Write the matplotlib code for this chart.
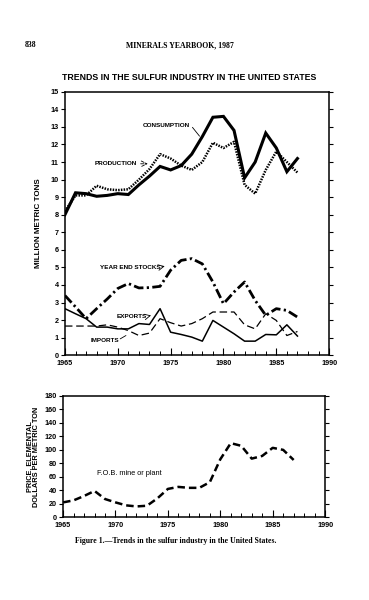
import numpy as np
import matplotlib
matplotlib.use('Agg')
import matplotlib.pyplot as plt

years = list(range(1965, 1988))

# million metric tons
consumption = [8.0, 9.25, 9.2, 9.05, 9.1, 9.2, 9.15, 9.7, 10.2, 10.75, 10.55, 10.8, 11.45,
               12.45, 13.55, 13.6, 12.8, 10.1, 11.0, 12.65, 11.8, 10.45, 11.2]
production = [8.2, 9.1, 9.1, 9.65, 9.45, 9.4, 9.45, 10.0, 10.6, 11.45, 11.2, 10.8, 10.55,
              11.0, 12.1, 11.8, 12.15, 9.7, 9.2, 10.55, 11.6, 11.0, 10.4]
stocks = [3.4, 2.75, 2.08, 2.65, 3.2, 3.8, 4.08, 3.83, 3.85, 3.92, 4.84, 5.4, 5.5,
          5.2, 4.17, 2.93, 3.6, 4.17, 3.12, 2.27, 2.65, 2.55, 2.17]
exports = [1.66, 1.66, 1.66, 1.66, 1.73, 1.6, 1.4, 1.12, 1.26, 2.08, 1.85, 1.66, 1.8,
           2.08, 2.46, 2.46, 2.46, 1.73, 1.5, 2.36, 1.98, 1.12, 1.35]
imports = [2.65, 2.36, 2.08, 1.6, 1.6, 1.5, 1.5, 1.8, 1.75, 2.65, 1.31, 1.18, 1.03,
           0.8, 1.98, 1.6, 1.22, 0.8, 0.8, 1.18, 1.16, 1.73, 1.09]

# dollars per metric ton, F.O.B. mine or plant
price = [22, 25, 31.5, 39, 27, 22, 17.6, 16, 17, 28, 42, 45, 43.6, 43.6, 52, 86, 110,
         106, 87, 91, 103, 100, 85]

sans = 'Liberation Sans'
serif = 'Liberation Serif'

fig = plt.figure(figsize=(3.69, 6.0), dpi=100)

fig.text(0.068, 0.925, '838', fontsize=5.5, family=serif, fontweight='bold', va='center')
fig.text(0.488, 0.925, 'MINERALS YEARBOOK, 1987', fontsize=5.6, family=serif,
         fontweight='bold', ha='center', va='center')
fig.text(0.512, 0.870, 'TRENDS IN THE SULFUR INDUSTRY IN THE UNITED STATES',
         fontsize=6.3, family=sans, fontweight='bold', ha='center', va='center')
fig.text(0.475, 0.098, 'Figure 1.\u2014Trends in the sulfur industry in the United States.',
         fontsize=5.6, family=serif, fontweight='bold', ha='center', va='center')


def style_axes(ax, yticks):
    ax.set_xlim(1965, 1990)
    ax.set_xticks([1965, 1970, 1975, 1980, 1985, 1990])
    ax.set_xticks(range(1965, 1991), minor=True)
    ax.tick_params(axis='x', which='major', direction='in', length=5, width=0.8,
                   labelsize=5.2, pad=3.5)
    ax.tick_params(axis='x', which='minor', direction='in', length=3, width=0.7)
    ax.set_yticks(yticks)
    ax.tick_params(axis='y', which='major', direction='out', length=3, width=0.8,
                   labelsize=5.2, pad=1.5, right=True)
    for lab in ax.get_xticklabels() + ax.get_yticklabels():
        lab.set_fontweight('bold')
        lab.set_family(sans)
    for s in ax.spines.values():
        s.set_linewidth(1.1)


# upper panel
ax = fig.add_axes([0.176, 0.408, 0.716, 0.439])
ax.plot(years, consumption, color='black', lw=2.2, solid_joinstyle='miter')
ax.plot(years, production, color='black', lw=1.8, linestyle=(0, (0.6, 0.5)))
ax.plot(years, stocks, color='black', lw=2.0, linestyle=(0, (3.5, 1.2, 0.8, 1.2)))
ax.plot(years, exports, color='black', lw=0.9, linestyle=(0, (6, 3)))
ax.plot(years, imports, color='black', lw=1.1)
ax.set_ylim(0, 15)
style_axes(ax, range(0, 16))
ax.set_ylabel('MILLION METRIC TONS', fontsize=5.8, fontweight='bold', family=sans, labelpad=6)

lab_kw = dict(fontsize=4.6, fontweight='bold', family=sans, ha='center', va='center')
ax.text(1974.6, 13.1, 'CONSUMPTION', **lab_kw)
ax.annotate('', xy=(1977.9, 12.35), xytext=(1976.9, 13.1),
            arrowprops=dict(arrowstyle='-', lw=0.6, color='black'))
ax.text(1969.8, 10.9, 'PRODUCTION', **lab_kw)
ax.annotate('', xy=(1973.1, 10.9), xytext=(1971.9, 10.9),
            arrowprops=dict(arrowstyle='->', lw=0.6, color='black', linestyle='--'))
ax.text(1971.2, 5.0, 'YEAR END STOCKS', **lab_kw)
ax.annotate('', xy=(1974.7, 5.1), xytext=(1973.9, 5.0),
            arrowprops=dict(arrowstyle='->', lw=0.6, color='black'))
ax.text(1971.3, 2.2, 'EXPORTS', **lab_kw)
ax.annotate('', xy=(1973.4, 2.3), xytext=(1972.7, 2.2),
            arrowprops=dict(arrowstyle='->', lw=0.6, color='black'))
ax.text(1968.8, 0.85, 'IMPORTS', **lab_kw)
ax.annotate('', xy=(1971.0, 1.2), xytext=(1970.0, 0.85),
            arrowprops=dict(arrowstyle='-', lw=0.6, color='black'))

# lower panel
bx = fig.add_axes([0.171, 0.138, 0.710, 0.202])
bx.plot(years, price, color='black', lw=1.8, linestyle=(0, (3, 1.6)))
bx.set_ylim(0, 180)
style_axes(bx, range(0, 181, 20))
bx.set_ylabel('PRICE, ELEMENTAL\nDOLLARS PER METRIC TON', fontsize=5.3,
              fontweight='bold', family=sans, labelpad=3, linespacing=1.0)
bx.text(1971.3, 65, 'F.O.B. mine or plant', fontsize=5.3, family=sans,
        ha='center', va='center')

fig.savefig('out.png', dpi=100)
